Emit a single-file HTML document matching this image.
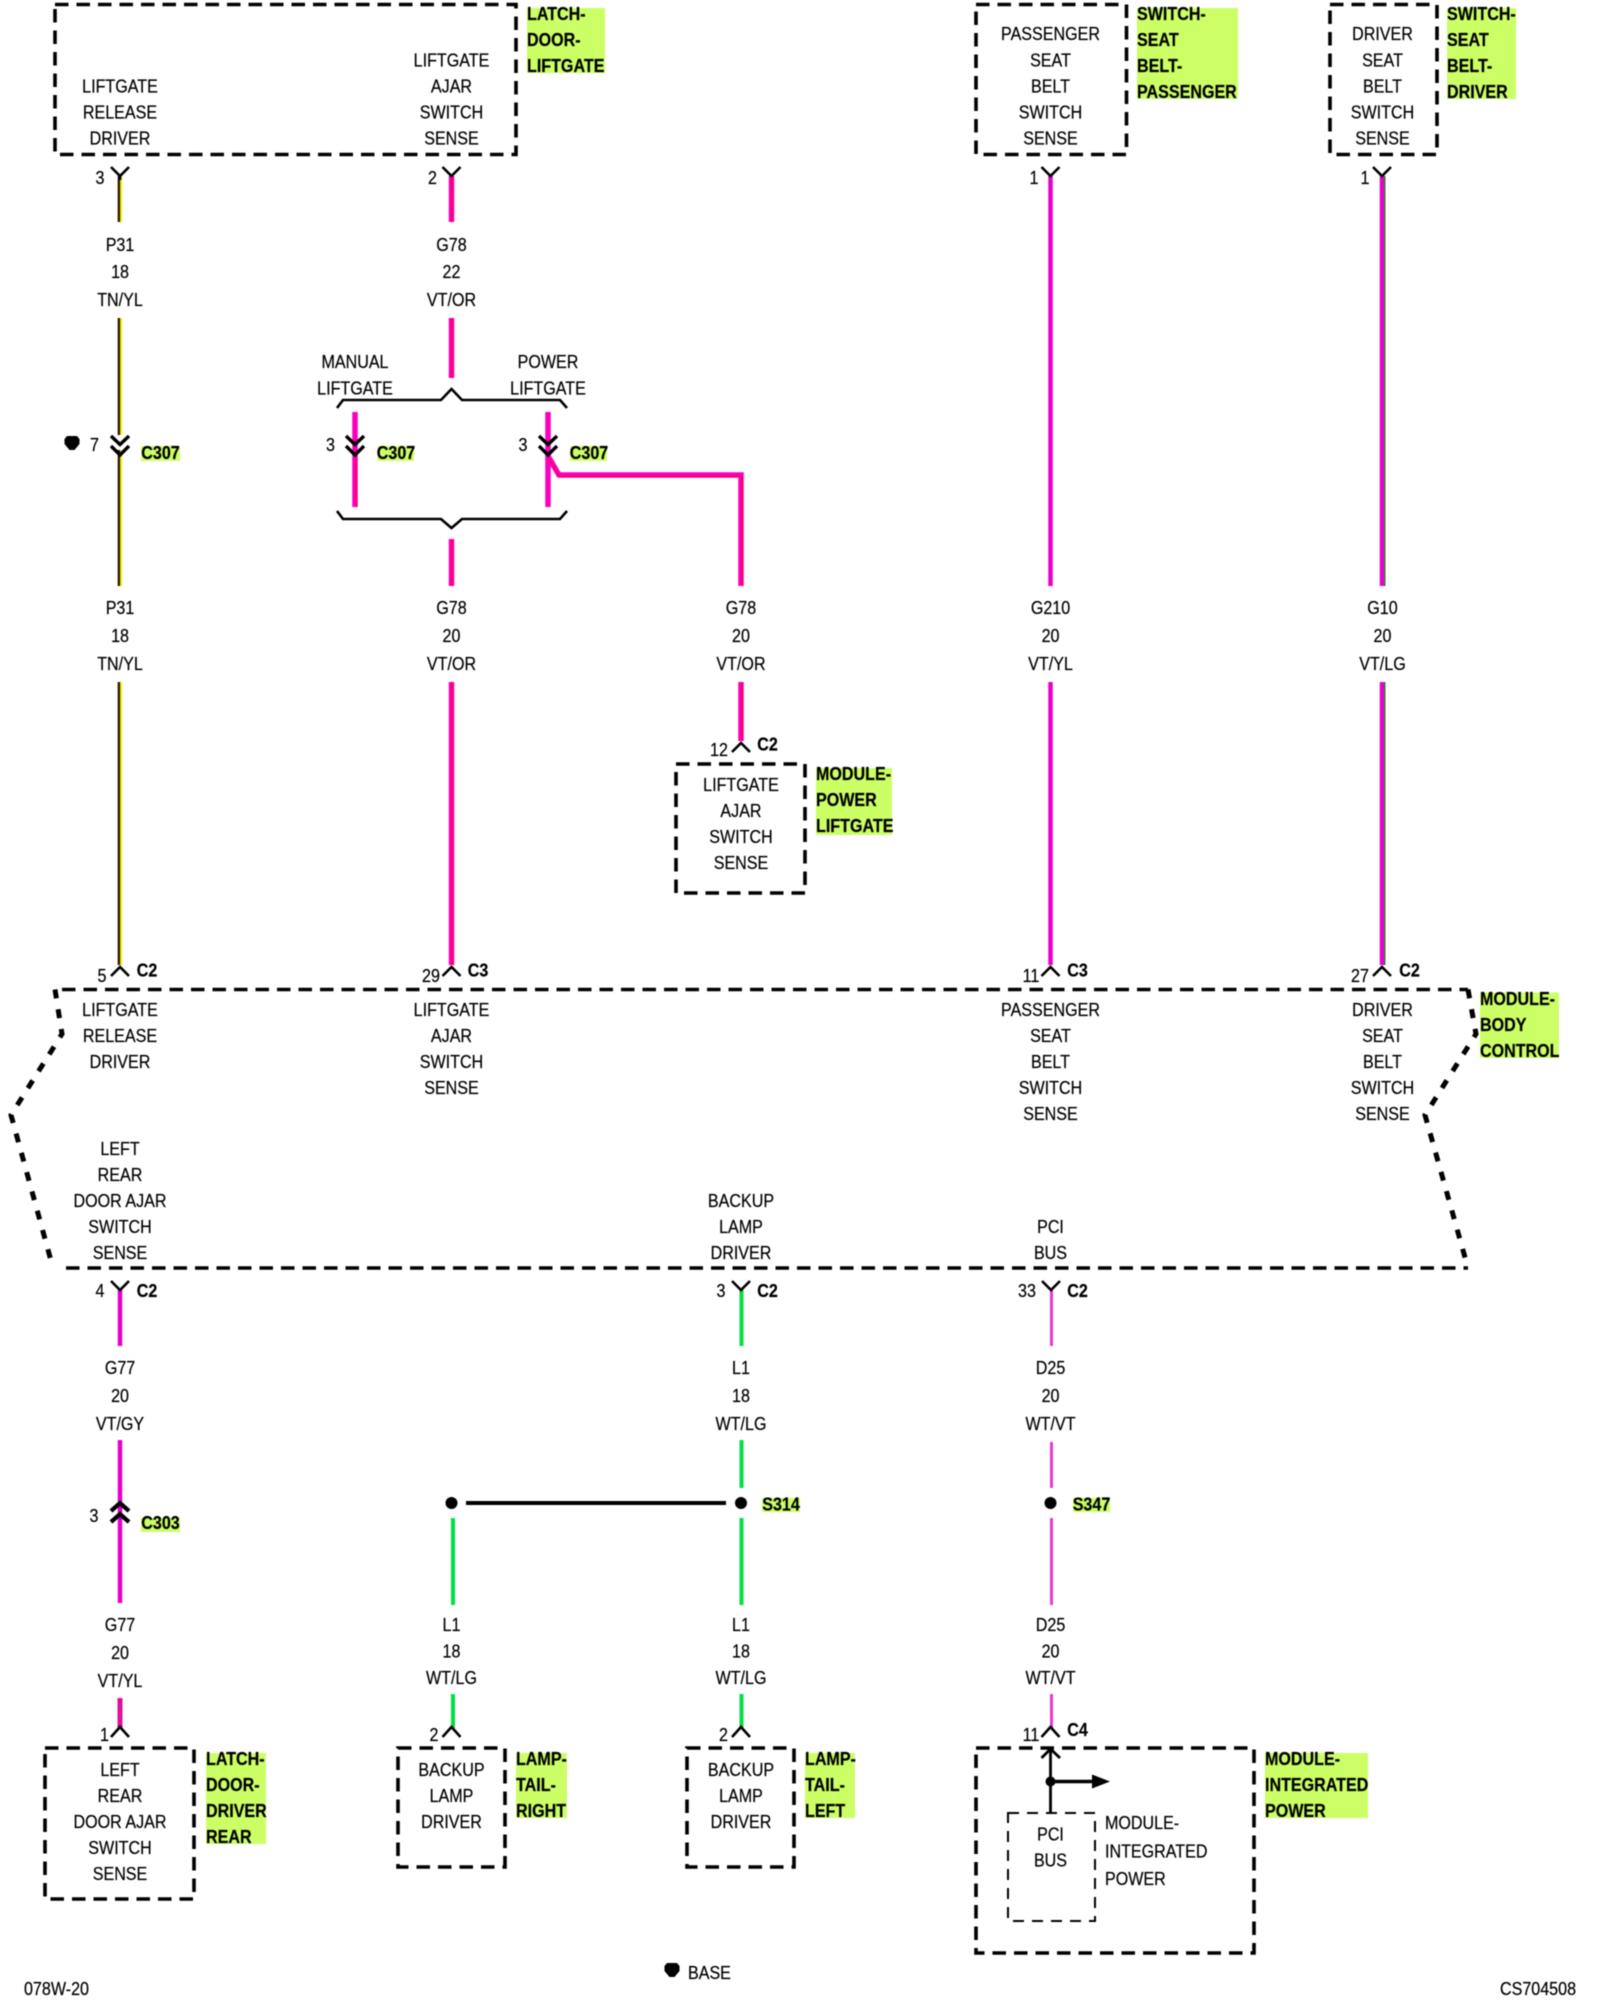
<!DOCTYPE html>
<html><head><meta charset="utf-8"><title>Wiring diagram</title>
<style>
html,body{margin:0;padding:0;background:#fff;width:1600px;height:2000px;overflow:hidden}
svg{display:block;filter:blur(.4px)}
text{font-family:"Liberation Sans",sans-serif;font-size:18.5px;fill:#000;stroke:#000;stroke-width:.2;text-anchor:middle;transform-box:fill-box;transform-origin:50% 50%;transform:scaleX(.87)}
text.l{text-anchor:start;transform-origin:0 50%}
text.b{font-weight:bold}
.box{fill:none;stroke:#000;stroke-width:3.6;stroke-dasharray:13.5 8}
.d{fill:none;stroke:#000;stroke-width:5;stroke-dasharray:9 11}
.c{fill:none;stroke:#000;stroke-width:2.6}
.c2{fill:none;stroke:#000;stroke-width:3.4}
.g{fill:#ccff66}
.m{stroke:#f800c0;stroke-width:5.5;fill:none}
.r{stroke:#ff0050;stroke-width:1.6;fill:none}
.v{stroke:#e800d0;stroke-width:4.5;fill:none}
.lg{stroke:#00e040;stroke-width:4;fill:none}
.p{stroke:#e838d8;stroke-width:3;fill:none}
.k{stroke:#2a1500;stroke-width:2.6;fill:none}
.y{stroke:#f8f000;stroke-width:2;fill:none}
.gr{stroke:#208020;stroke-width:1.4;fill:none}
</style></head><body>
<svg xmlns="http://www.w3.org/2000/svg" width="1600" height="2000" viewBox="0 0 1600 2000">
<rect width="1600" height="2000" fill="#fff"/>

<!-- green label backgrounds -->
<rect class="g" x="527" y="8" width="78" height="65"/>
<rect class="g" x="1137" y="8" width="101" height="91"/>
<rect class="g" x="1447" y="8" width="69" height="91"/>
<rect class="g" x="141" y="446" width="39" height="15"/>
<rect class="g" x="377.5" y="446" width="36.5" height="15"/>
<rect class="g" x="570" y="446" width="37" height="15"/>
<rect class="g" x="816" y="768" width="76" height="67"/>
<rect class="g" x="1480" y="992.5" width="79" height="65.5"/>
<rect class="g" x="141" y="1518" width="39" height="14"/>
<rect class="g" x="762" y="1498" width="38" height="14"/>
<rect class="g" x="1073" y="1498" width="37" height="14"/>
<rect class="g" x="206" y="1753" width="60" height="91"/>
<rect class="g" x="516" y="1753" width="51" height="65"/>
<rect class="g" x="805" y="1753" width="50" height="65"/>
<rect class="g" x="1265" y="1753" width="103" height="65"/>

<!-- dashed boxes -->
<rect class="box" x="55" y="4.5" width="461" height="150"/>
<rect class="box" x="976" y="4.5" width="150.5" height="150"/>
<rect class="box" x="1330" y="4.5" width="107" height="150"/>
<rect class="box" x="676" y="764" width="129" height="129"/>
<rect class="box" x="45" y="1748" width="149" height="151"/>
<rect class="box" x="398" y="1748" width="107" height="119"/>
<rect class="box" x="687" y="1748" width="107" height="119"/>
<rect class="box" x="976" y="1748" width="278" height="205"/>
<rect x="1008" y="1813" width="87" height="108" fill="none" stroke="#000" stroke-width="2" stroke-dasharray="11 8"/>

<!-- module body control outline -->
<path class="box" d="M62 989.5H1468"/>
<path class="box" d="M66 1268H1468"/>
<path class="d" d="M55 989.5L62 1034L11 1115L53 1268"/>
<path class="d" d="M1468 989.5L1476 1034L1425 1115L1468 1268"/>

<!-- wires: P31 -->
<path class="k" d="M119 176V222M119 318V435M119 450V586M119 682V965"/>
<path class="y" d="M121.2 176V222M121.2 318V435M121.2 450V586M121.2 682V965"/>
<!-- G78 -->
<path class="m" d="M451.5 176V222M451.5 318V378M451.5 539V586M451.5 682V965"/>
<path class="r" d="M452 176V222M452 318V378M452 539V586M452 682V965"/>
<path class="m" d="M355 412V507M548 412V507"/>
<path class="r" d="M356.5 455V507"/>
<path class="m" d="M548 456L559 475H741V586M741 682V741"/>
<path class="r" d="M549 459L559.5 476.5H742V586M742 682V741"/>
<!-- G210 / G10 -->
<path class="v" d="M1050.5 176V586M1050.5 682V965"/>
<path class="v" d="M1382 176V586M1382 682V965"/>
<path class="gr" d="M1384.8 176V586M1384.8 682V965"/>
<!-- bottom wires -->
<path class="v" d="M120 1289V1346M120 1440V1603"/>
<path d="M120 1698V1728" stroke="#e0109a" stroke-width="5" fill="none"/>
<path class="lg" d="M741.5 1289V1346M741.5 1440V1488M741.5 1518V1605M741.5 1694V1728M453 1518V1605M453 1694V1728"/>
<path class="p" d="M1051.5 1289V1346M1051.5 1442V1488M1051.5 1518V1605M1051.5 1694V1728"/>
<path d="M466 1503H726" stroke="#000" stroke-width="4" fill="none"/>

<!-- top Y connectors -->
<path class="c" d="M111 167L120 176L129 167M120 176V180"/>
<path class="c" d="M442.5 167L451.5 176L460.5 167"/>
<path class="c" d="M1041.5 167L1050.5 176L1059.5 167"/>
<path class="c" d="M1373 167L1382 176L1391 167"/>

<!-- double chevrons C307 -->
<path class="c2" d="M111 436L120 444.5L129 436M111 446L120 455L129 446"/>
<path class="c2" d="M346 436L355 444.5L364 436M346 446L355 455L364 446"/>
<path class="c2" d="M539 436L548 444.5L557 436M539 446L548 455L557 446"/>

<!-- braces -->
<path class="c" d="M337 408L343 400H441L451.5 389L462 400H560L567 408"/>
<path class="c" d="M337 511L343 519H441L451.5 528L462 519H560L567 511"/>

<!-- ^ connectors -->
<path class="c" d="M111 976L120 967L129 976"/>
<path class="c" d="M442.5 976L451.5 967L460.5 976"/>
<path class="c" d="M732 752L741 743L750 752"/>
<path class="c" d="M1041.5 976L1050.5 967L1059.5 976"/>
<path class="c" d="M1373 976L1382 967L1391 976"/>
<path class="c" d="M111 1737L120 1727L129 1737"/>
<path class="c" d="M442.5 1737L451.5 1727L460.5 1737"/>
<path class="c" d="M732 1737L741 1727L750 1737"/>
<path class="c" d="M1041.5 1737L1050.5 1727L1059.5 1737"/>

<!-- Y connectors below module -->
<path class="c" d="M111 1281L120 1290L129 1281"/>
<path class="c" d="M732 1281L741 1290L750 1281"/>
<path class="c" d="M1042 1281L1051 1290L1060 1281"/>

<!-- C303 up chevrons -->
<path fill="none" stroke="#000" stroke-width="4.2" d="M111 1511L120 1503L129 1511M111 1522L120 1514L129 1522"/>

<!-- dots -->
<circle cx="451.5" cy="1503" r="6"/><circle cx="741" cy="1503" r="6"/><circle cx="1050.5" cy="1503" r="6"/>
<path d="M67 436h10l2.5 3v5l-5 6h-5l-5-6v-5z"/>
<path d="M667 1963h10l2.5 3v5l-5 6h-5l-5-6v-5z"/>

<!-- PCI internal -->
<path fill="none" stroke="#000" stroke-width="2.8" d="M1050.5 1750V1813M1041.5 1758L1050.5 1749L1060 1758"/>
<circle cx="1050.5" cy="1781.5" r="5"/>
<path stroke="#000" stroke-width="3.4" d="M1050.5 1781.5H1094"/>
<path d="M1092 1774.5L1110 1781.5L1092 1788.5z"/>

<!-- text: top boxes -->
<text><tspan x="120" y="92.5">LIFTGATE</tspan><tspan x="120" y="118.5">RELEASE</tspan><tspan x="120" y="144.5">DRIVER</tspan></text>
<text><tspan x="451.5" y="66.5">LIFTGATE</tspan><tspan x="451.5" y="92.5">AJAR</tspan><tspan x="451.5" y="118.5">SWITCH</tspan><tspan x="451.5" y="144.5">SENSE</tspan></text>
<text><tspan x="1050.5" y="40">PASSENGER</tspan><tspan x="1050.5" y="66.5">SEAT</tspan><tspan x="1050.5" y="92.5">BELT</tspan><tspan x="1050.5" y="118.5">SWITCH</tspan><tspan x="1050.5" y="144.5">SENSE</tspan></text>
<text><tspan x="1382.5" y="40">DRIVER</tspan><tspan x="1382.5" y="66.5">SEAT</tspan><tspan x="1382.5" y="92.5">BELT</tspan><tspan x="1382.5" y="118.5">SWITCH</tspan><tspan x="1382.5" y="144.5">SENSE</tspan></text>

<text class="l b" x="527"><tspan x="527" y="20">LATCH-</tspan><tspan x="527" y="46">DOOR-</tspan><tspan x="527" y="72">LIFTGATE</tspan></text>
<text class="l b"><tspan x="1137" y="20">SWITCH-</tspan><tspan x="1137" y="46">SEAT</tspan><tspan x="1137" y="72">BELT-</tspan><tspan x="1137" y="98">PASSENGER</tspan></text>
<text class="l b"><tspan x="1447" y="20">SWITCH-</tspan><tspan x="1447" y="46">SEAT</tspan><tspan x="1447" y="72">BELT-</tspan><tspan x="1447" y="98">DRIVER</tspan></text>

<!-- pin numbers top -->
<text x="100" y="184">3</text><text x="432.5" y="184">2</text><text x="1034" y="184">1</text><text x="1365" y="184">1</text>

<!-- wire labels -->
<text><tspan x="120" y="251">P31</tspan><tspan x="120" y="278">18</tspan><tspan x="120" y="306">TN/YL</tspan></text>
<text><tspan x="451.5" y="251">G78</tspan><tspan x="451.5" y="278">22</tspan><tspan x="451.5" y="306">VT/OR</tspan></text>
<text><tspan x="355" y="368">MANUAL</tspan><tspan x="355" y="394.5">LIFTGATE</tspan></text>
<text><tspan x="548" y="368">POWER</tspan><tspan x="548" y="394.5">LIFTGATE</tspan></text>
<text x="94.5" y="451">7</text><text x="330.5" y="451">3</text><text x="523" y="451">3</text>
<text class="b" x="160.5" y="459">C307</text><text class="b" x="396" y="459">C307</text><text class="b" x="589" y="459">C307</text>

<text><tspan x="120" y="614">P31</tspan><tspan x="120" y="642">18</tspan><tspan x="120" y="670">TN/YL</tspan></text>
<text><tspan x="451.5" y="614">G78</tspan><tspan x="451.5" y="642">20</tspan><tspan x="451.5" y="670">VT/OR</tspan></text>
<text><tspan x="741" y="614">G78</tspan><tspan x="741" y="642">20</tspan><tspan x="741" y="670">VT/OR</tspan></text>
<text><tspan x="1050.5" y="614">G210</tspan><tspan x="1050.5" y="642">20</tspan><tspan x="1050.5" y="670">VT/YL</tspan></text>
<text><tspan x="1382.5" y="614">G10</tspan><tspan x="1382.5" y="642">20</tspan><tspan x="1382.5" y="670">VT/LG</tspan></text>

<!-- power liftgate module -->
<text x="719" y="756">12</text><text class="b" x="767.5" y="750.5">C2</text>
<text><tspan x="741" y="791">LIFTGATE</tspan><tspan x="741" y="817">AJAR</tspan><tspan x="741" y="843">SWITCH</tspan><tspan x="741" y="869">SENSE</tspan></text>
<text class="l b"><tspan x="816" y="780">MODULE-</tspan><tspan x="816" y="806">POWER</tspan><tspan x="816" y="832">LIFTGATE</tspan></text>

<!-- module pins top -->
<text x="102" y="982">5</text><text class="b" x="147" y="976.5">C2</text>
<text x="431" y="982">29</text><text class="b" x="478" y="976.5">C3</text>
<text x="1031" y="982">11</text><text class="b" x="1077.5" y="976.5">C3</text>
<text x="1360" y="982">27</text><text class="b" x="1409.5" y="976.5">C2</text>

<!-- module body text -->
<text><tspan x="120" y="1016">LIFTGATE</tspan><tspan x="120" y="1042">RELEASE</tspan><tspan x="120" y="1068">DRIVER</tspan></text>
<text><tspan x="451.5" y="1016">LIFTGATE</tspan><tspan x="451.5" y="1042">AJAR</tspan><tspan x="451.5" y="1068">SWITCH</tspan><tspan x="451.5" y="1094">SENSE</tspan></text>
<text><tspan x="1050.5" y="1016">PASSENGER</tspan><tspan x="1050.5" y="1042">SEAT</tspan><tspan x="1050.5" y="1068">BELT</tspan><tspan x="1050.5" y="1094">SWITCH</tspan><tspan x="1050.5" y="1120">SENSE</tspan></text>
<text><tspan x="1382.5" y="1016">DRIVER</tspan><tspan x="1382.5" y="1042">SEAT</tspan><tspan x="1382.5" y="1068">BELT</tspan><tspan x="1382.5" y="1094">SWITCH</tspan><tspan x="1382.5" y="1120">SENSE</tspan></text>
<text><tspan x="120" y="1155">LEFT</tspan><tspan x="120" y="1181">REAR</tspan><tspan x="120" y="1207">DOOR AJAR</tspan><tspan x="120" y="1233">SWITCH</tspan><tspan x="120" y="1259">SENSE</tspan></text>
<text><tspan x="741" y="1207">BACKUP</tspan><tspan x="741" y="1233">LAMP</tspan><tspan x="741" y="1259">DRIVER</tspan></text>
<text><tspan x="1050.5" y="1233">PCI</tspan><tspan x="1050.5" y="1259">BUS</tspan></text>
<text class="l b"><tspan x="1480" y="1005">MODULE-</tspan><tspan x="1480" y="1031">BODY</tspan><tspan x="1480" y="1057">CONTROL</tspan></text>

<!-- module pins bottom -->
<text x="100" y="1297">4</text><text class="b" x="147" y="1297">C2</text>
<text x="721" y="1297">3</text><text class="b" x="767.5" y="1297">C2</text>
<text x="1027" y="1297">33</text><text class="b" x="1077.5" y="1297">C2</text>

<text><tspan x="120" y="1374">G77</tspan><tspan x="120" y="1402">20</tspan><tspan x="120" y="1430">VT/GY</tspan></text>
<text><tspan x="741" y="1374">L1</tspan><tspan x="741" y="1402">18</tspan><tspan x="741" y="1430">WT/LG</tspan></text>
<text><tspan x="1050.5" y="1374">D25</tspan><tspan x="1050.5" y="1402">20</tspan><tspan x="1050.5" y="1430">WT/VT</tspan></text>

<text x="94" y="1522">3</text><text class="b" x="160.5" y="1529">C303</text>
<text class="b" x="781" y="1510.5">S314</text><text class="b" x="1091.5" y="1510.5">S347</text>

<text><tspan x="120" y="1631">G77</tspan><tspan x="120" y="1659">20</tspan><tspan x="120" y="1687">VT/YL</tspan></text>
<text><tspan x="451.5" y="1631">L1</tspan><tspan x="451.5" y="1657.5">18</tspan><tspan x="451.5" y="1684">WT/LG</tspan></text>
<text><tspan x="741" y="1631">L1</tspan><tspan x="741" y="1657.5">18</tspan><tspan x="741" y="1684">WT/LG</tspan></text>
<text><tspan x="1050.5" y="1631">D25</tspan><tspan x="1050.5" y="1657.5">20</tspan><tspan x="1050.5" y="1684">WT/VT</tspan></text>

<text x="104.5" y="1741">1</text><text x="434" y="1741">2</text><text x="723.5" y="1741">2</text><text x="1031" y="1741">11</text>
<text class="b" x="1077.5" y="1736">C4</text>

<!-- bottom boxes -->
<text><tspan x="120" y="1776">LEFT</tspan><tspan x="120" y="1802">REAR</tspan><tspan x="120" y="1828">DOOR AJAR</tspan><tspan x="120" y="1854">SWITCH</tspan><tspan x="120" y="1880">SENSE</tspan></text>
<text><tspan x="451.5" y="1776">BACKUP</tspan><tspan x="451.5" y="1802">LAMP</tspan><tspan x="451.5" y="1828">DRIVER</tspan></text>
<text><tspan x="741" y="1776">BACKUP</tspan><tspan x="741" y="1802">LAMP</tspan><tspan x="741" y="1828">DRIVER</tspan></text>
<text><tspan x="1050.5" y="1840.5">PCI</tspan><tspan x="1050.5" y="1866.5">BUS</tspan></text>
<text class="l"><tspan x="1105" y="1829">MODULE-</tspan><tspan x="1105" y="1857.5">INTEGRATED</tspan><tspan x="1105" y="1885">POWER</tspan></text>

<text class="l b"><tspan x="206" y="1765">LATCH-</tspan><tspan x="206" y="1791">DOOR-</tspan><tspan x="206" y="1817">DRIVER</tspan><tspan x="206" y="1843">REAR</tspan></text>
<text class="l b"><tspan x="516" y="1765">LAMP-</tspan><tspan x="516" y="1791">TAIL-</tspan><tspan x="516" y="1817">RIGHT</tspan></text>
<text class="l b"><tspan x="805" y="1765">LAMP-</tspan><tspan x="805" y="1791">TAIL-</tspan><tspan x="805" y="1817">LEFT</tspan></text>
<text class="l b"><tspan x="1265" y="1765">MODULE-</tspan><tspan x="1265" y="1791">INTEGRATED</tspan><tspan x="1265" y="1817">POWER</tspan></text>

<!-- footer -->
<text class="l" x="24" y="1995">078W-20</text>
<text class="l" x="688" y="1979">BASE</text>
<text class="l" x="1500" y="1995">CS704508</text>
</svg>
</body></html>
